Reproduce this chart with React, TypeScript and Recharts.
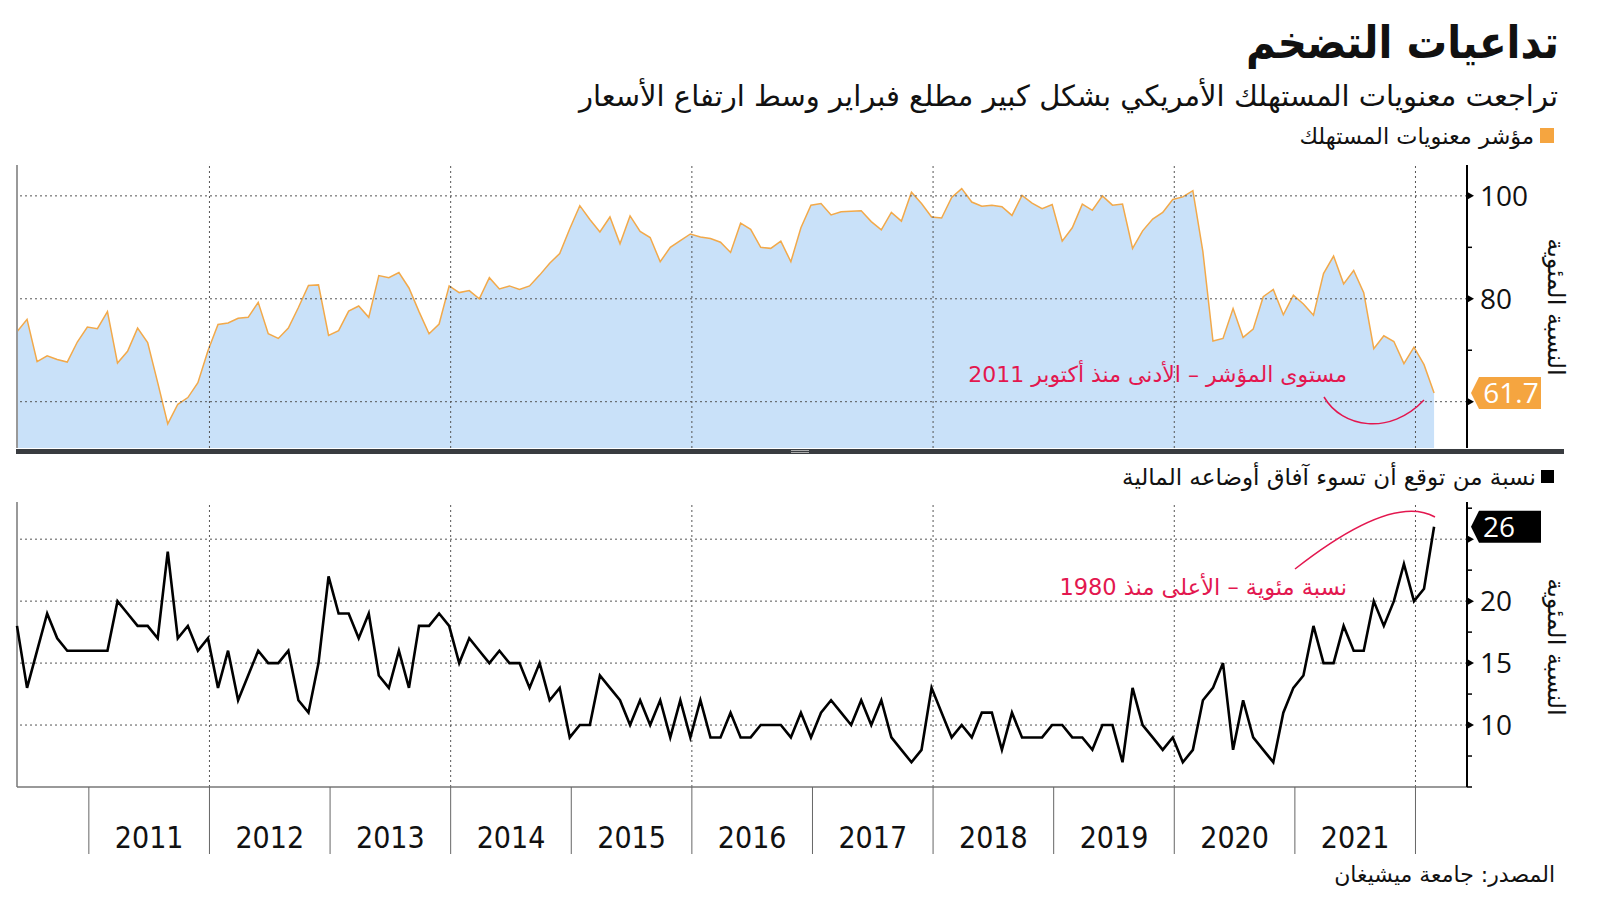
import React from 'react'
import { AreaChart, Area, LineChart, Line, XAxis, YAxis, ReferenceLine, ReferenceDot } from 'recharts'

// University of Michigan survey, monthly, May 2010 .. Feb 2022 (last reading preliminary)
const FIRST_YEAR = 2010
const FIRST_MONTH = 4 // May, 0-based

const sentiment = [
  73.6, 76.0, 67.8, 68.9, 68.2, 67.7, 71.6, 74.5,
  74.2, 77.5, 67.5, 69.8, 74.3, 71.5, 63.7, 55.7, 59.5, 60.8, 63.7, 69.9,
  75.0, 75.3, 76.2, 76.4, 79.3, 73.2, 72.3, 74.3, 78.3, 82.6, 82.7, 72.9,
  73.8, 77.6, 78.6, 76.4, 84.5, 84.1, 85.1, 82.1, 77.5, 73.2, 75.1, 82.5,
  81.2, 81.6, 80.0, 84.1, 81.9, 82.5, 81.8, 82.5, 84.6, 86.9, 88.8, 93.6,
  98.1, 95.4, 93.0, 95.9, 90.7, 96.1, 93.1, 91.9, 87.2, 90.0, 91.3, 92.6,
  92.0, 91.7, 91.0, 89.0, 94.7, 93.5, 90.0, 89.8, 91.2, 87.2, 93.8, 98.2,
  98.5, 96.3, 96.9, 97.0, 97.1, 95.0, 93.4, 96.8, 95.1, 100.7, 98.5, 95.9,
  95.7, 99.7, 101.4, 98.8, 98.0, 98.2, 97.9, 96.2, 100.1, 98.6, 97.5, 98.3,
  91.2, 93.8, 98.4, 97.2, 100.0, 98.2, 98.4, 89.8, 93.2, 95.5, 96.8, 99.3,
  99.8, 101.0, 89.1, 71.8, 72.3, 78.1, 72.5, 74.1, 80.4, 81.8, 76.9, 80.7,
  79.0, 76.8, 84.9, 88.3, 82.9, 85.5, 81.2, 70.3, 72.8, 71.7, 67.4, 70.6,
  67.2, 61.7,
]

// share expecting their finances to get worse, %
const worseOff = [
  18, 13, 16, 19, 17, 16, 16, 16,
  16, 16, 20, 19, 18, 18, 17, 24, 17, 18, 16, 17,
  13, 16, 12, 14, 16, 15, 15, 16, 12, 11, 15, 22,
  19, 19, 17, 19, 14, 13, 16, 13, 18, 18, 19, 18,
  15, 17, 16, 15, 16, 15, 15, 13, 15, 12, 13, 9,
  10, 10, 14, 13, 12, 10, 12, 10, 12, 9, 12, 9,
  12, 9, 9, 11, 9, 9, 10, 10, 10, 9, 11, 9,
  11, 12, 11, 10, 12, 10, 12, 9, 8, 7, 8, 13,
  11, 9, 10, 9, 11, 11, 8, 11, 9, 9, 9, 10,
  10, 9, 9, 8, 10, 10, 7, 13, 10, 9, 8, 9,
  7, 8, 12, 13, 15, 8, 12, 9, 8, 7, 11, 13,
  14, 18, 15, 15, 18, 16, 16, 20, 18, 20, 23, 20,
  21, 26,
]

const years = ['2011', '2012', '2013', '2014', '2015', '2016', '2017', '2018', '2019', '2020', '2021']
const gridYears = [2012, 2014, 2016, 2018, 2020, 2022]

const topTicks = [60, 70, 80, 90, 100]
const topLabels = [80, 100]
const bottomTicks = [5, 7.5, 10, 12.5, 15, 17.5, 20, 22.5, 25, 27.5]
const bottomLabels = [10, 15, 20]

const TITLE = 'تداعيات التضخم'
const SUBTITLE = 'تراجعت معنويات المستهلك الأمريكي بشكل كبير مطلع فبراير وسط ارتفاع الأسعار'
const LEGEND_TOP = 'مؤشر معنويات المستهلك'
const LEGEND_BOTTOM = 'نسبة من توقع أن تسوء آفاق أوضاعه المالية'
const NOTE_TOP = 'مستوى المؤشر – الأدنى منذ أكتوبر 2011'
const NOTE_BOTTOM = 'نسبة مئوية – الأعلى منذ 1980'
const AXIS_TITLE = 'النسبة المئوية'
const SOURCE = 'المصدر: جامعة ميشيغان'

const ARABIC = "'DejaVu Sans', sans-serif"
const ARABIC_TITLE = "'DejaVu Sans Condensed', 'DejaVu Sans', sans-serif"
const NUM = "'Open Sans', sans-serif"
const RED = '#e3174f'
const ORANGE = '#f5a540'

// points sit near the end of their month
const rows = sentiment.map((v, i) => ({
  t: FIRST_YEAR + (FIRST_MONTH + i + 0.85) / 12,
  sentiment: v,
  worse: worseOff[i],
}))
const X_MIN = rows[0].t
const X_MAX = X_MIN + 12.023
const last = rows[rows.length - 1]

const xTicks: number[] = []
years.forEach((y) => {
  xTicks.push(Number(y), Number(y) + 0.5)
})
xTicks.push(Number(years[years.length - 1]) + 1)

function RightTick(props: any) {
  const { x, y, payload, labels } = props
  const v = payload.value
  const major = labels.includes(v) || v === 60 || v === 25
  return (
    <g>
      {major ? (
        <polygon points={`${x},${y - 4} ${x + 7},${y} ${x},${y + 4}`} fill="#000" />
      ) : (
        <line x1={x} x2={x + 5} y1={y} y2={y} stroke="#000" strokeWidth={1.5} />
      )}
      {labels.includes(v) && (
        <text x={x + 13} y={y} dy="0.36em" fontSize={28} fontFamily={NUM} fill="#111">
          {v}
        </text>
      )}
    </g>
  )
}

function YearTick(props: any) {
  const { x, y, payload } = props
  const v = payload.value
  if (Number.isInteger(v)) {
    return <line x1={x} x2={x} y1={y} y2={y + 67} stroke="#666" strokeWidth={1} />
  }
  return (
    <text x={x} y={y + 61} textAnchor="middle" fontSize={30} fontFamily="'Liberation Sans Narrow', 'DejaVu Sans Condensed', sans-serif" fill="#111">
      {Math.floor(v)}
    </text>
  )
}

function Badge(props: any) {
  const { cx, cy, fill, text, centered } = props
  const x = cx + 4
  return (
    <g>
      <polygon
        points={`${x},${cy} ${x + 8},${cy - 16} ${x + 70},${cy - 16} ${x + 70},${cy + 16} ${x + 8},${cy + 16}`}
        fill={fill}
      />
      <text
        x={centered ? x + 40 : x + 12}
        y={cy}
        dy="0.36em"
        textAnchor={centered ? 'middle' : 'start'}
        fontSize={28}
        fontFamily={NUM}
        fill="#fff"
      >
        {text}
      </text>
    </g>
  )
}

function Txt({ right, cy, size, color = '#111', weight = 400, family = ARABIC, children }: any) {
  return (
    <div
      style={{
        position: 'absolute',
        right: 1600 - right,
        top: cy - size,
        height: size * 2,
        lineHeight: `${size * 2}px`,
        fontSize: size,
        fontWeight: weight,
        color,
        fontFamily: family,
        direction: 'rtl',
        whiteSpace: 'nowrap',
      }}
    >
      {children}
    </div>
  )
}

const grid = { stroke: '#555', strokeDasharray: '2 3', strokeWidth: 1 }

export default function App() {
  return (
    <div style={{ position: 'absolute', left: 0, top: 0, width: 1600, height: 901, background: '#fff', overflow: 'hidden' }}>
      <Txt right={1559} cy={43} size={45} weight={700} family={ARABIC_TITLE}>{TITLE}</Txt>
      <Txt right={1558} cy={96} size={29}>{SUBTITLE}</Txt>
      <div style={{ position: 'absolute', left: 1540, top: 128, width: 14, height: 15, background: ORANGE }} />
      <Txt right={1534} cy={136} size={22.5}>{LEGEND_TOP}</Txt>

      <div style={{ position: 'absolute', left: 0, top: 0 }}>
        <AreaChart width={1600} height={460} data={rows} margin={{ top: 165, right: 0, left: 17, bottom: 12 }}>
          <XAxis dataKey="t" type="number" domain={[X_MIN, X_MAX]} hide />
          <YAxis
            orientation="right"
            width={133}
            domain={[51, 106]}
            ticks={topTicks}
            interval={0}
            tickSize={0}
            tickMargin={0}
            tickLine={false}
            axisLine={{ stroke: '#000', strokeWidth: 2 }}
            tick={(p: any) => <RightTick {...p} labels={topLabels} />}
          />
          <Area
            type="linear"
            dataKey="sentiment"
            stroke="#f2a94a"
            strokeWidth={1.5}
            fill="#c9e1f9"
            fillOpacity={1}
            dot={false}
            activeDot={false}
            isAnimationActive={false}
          />
          <ReferenceLine x={X_MIN} stroke="#999" strokeWidth={2} />
          {[60, 80, 100].map((v) => (
            <ReferenceLine key={v} y={v} {...grid} />
          ))}
          {gridYears.map((y) => (
            <ReferenceLine key={y} x={y} {...grid} />
          ))}
          <ReferenceDot
            x={X_MAX}
            y={last.sentiment}
            r={0}
            ifOverflow="visible"
            shape={(p: any) => <Badge {...p} fill={ORANGE} text={String(last.sentiment)} centered />}
          />
        </AreaChart>
      </div>

      <div style={{ position: 'absolute', left: 0, top: 460 }}>
        <LineChart width={1600} height={441} data={rows} margin={{ top: 42, right: 0, left: 17, bottom: 34 }}>
          <XAxis
            dataKey="t"
            type="number"
            domain={[X_MIN, X_MAX]}
            ticks={xTicks}
            interval={0}
            height={80}
            tickSize={0}
            tickMargin={0}
            tickLine={false}
            axisLine={{ stroke: '#777', strokeWidth: 1.5 }}
            tick={(p: any) => <YearTick {...p} />}
          />
          <YAxis
            orientation="right"
            width={133}
            domain={[5, 28]}
            ticks={bottomTicks}
            interval={0}
            tickSize={0}
            tickMargin={0}
            tickLine={false}
            axisLine={{ stroke: '#000', strokeWidth: 2 }}
            tick={(p: any) => <RightTick {...p} labels={bottomLabels} />}
          />
          <ReferenceLine x={X_MIN} stroke="#999" strokeWidth={2} />
          {[10, 15, 20, 25].map((v) => (
            <ReferenceLine key={v} y={v} {...grid} />
          ))}
          {gridYears.map((y) => (
            <ReferenceLine key={y} x={y} {...grid} />
          ))}
          <Line
            type="linear"
            dataKey="worse"
            stroke="#000"
            strokeWidth={2.6}
            dot={false}
            activeDot={false}
            isAnimationActive={false}
          />
          <ReferenceDot
            x={X_MAX}
            y={last.worse}
            r={0}
            ifOverflow="visible"
            shape={(p: any) => <Badge {...p} fill="#000" text={String(last.worse)} />}
          />
        </LineChart>
      </div>

      <div style={{ position: 'absolute', left: 1541, top: 470, width: 13, height: 13, background: '#000' }} />
      <Txt right={1536} cy={477} size={23}>{LEGEND_BOTTOM}</Txt>

      <Txt right={1347} cy={375} size={22} color={RED}>{NOTE_TOP}</Txt>
      <Txt right={1347} cy={587} size={22.5} color={RED}>{NOTE_BOTTOM}</Txt>
      <Txt right={1555} cy={875} size={22}>{SOURCE}</Txt>

      <svg width={1600} height={901} style={{ position: 'absolute', left: 0, top: 0, pointerEvents: 'none' }}>
        <rect x={16} y={449} width={1548} height={5} fill="#393c40" />
        <line x1={791} x2={809} y1={450.5} y2={450.5} stroke="#aaa" strokeWidth={1} />
        <line x1={791} x2={809} y1={452.5} y2={452.5} stroke="#aaa" strokeWidth={1} />
        <path d="M1324 397 C1342 428, 1390 436, 1424 400" fill="none" stroke={RED} strokeWidth={1.5} />
        <path d="M1295 569 Q1392 493, 1435 517" fill="none" stroke={RED} strokeWidth={1.5} />
        {[307, 647].map((cy) => (
          <text
            key={cy}
            x={0}
            y={0}
            transform={`translate(1548 ${cy}) rotate(90)`}
            textAnchor="middle"
            direction="rtl"
            fontSize={24}
            fontFamily={ARABIC}
            fill="#111"
          >
            {AXIS_TITLE}
          </text>
        ))}
      </svg>
    </div>
  )
}
